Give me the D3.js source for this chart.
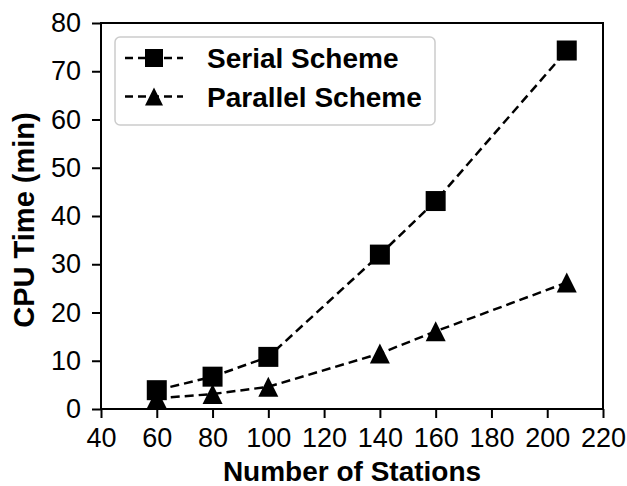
<!DOCTYPE html>
<html>
<head>
<meta charset="utf-8">
<script src="https://cdn.jsdelivr.net/npm/d3@7"></script>
<style>
  body { margin: 0; background: #fff; }
  svg text { font-family: "Liberation Sans", Arial, sans-serif; fill: #000; }
</style>
</head>
<body>
<div id="chart"></div>
<script>
// values
const stations = [60, 80, 100, 140, 160, 207];
const serialTime = [3.9, 6.7, 10.8, 32.0, 43.1, 74.3];
const parallelTime = [2.2, 3.1, 4.6, 11.5, 16.1, 26.2];
const xTicks = [40, 60, 80, 100, 120, 140, 160, 180, 200, 220];
const yTicks = [0, 10, 20, 30, 40, 50, 60, 70, 80];
const seriesNames = ['Serial Scheme', 'Parallel Scheme'];

const width = 627, height = 486;
const margin = {top: 23, right: 24, bottom: 77, left: 101};

let svg = d3.select('#chart').append('svg')
    .attr('width', width)
    .attr('height', height);

let x = d3.scaleLinear().domain([40, 220]).range([margin.left, width - margin.right]);
let y = d3.scaleLinear().domain([0, 80]).range([height - margin.bottom, margin.top]);

// matplotlib style '^' marker: as wide as it is tall
const triangleUp = {
    draw: function(context, size) {
        let r = Math.sqrt(size) / 2;
        context.moveTo(0, -r);
        context.lineTo(r, r);
        context.lineTo(-r, r);
        context.closePath();
    }
};

// axes
let xAxis = svg.append('g')
    .attr('transform', 'translate(0,' + (height - margin.bottom) + ')')
    .call(d3.axisBottom(x).tickValues(xTicks).tickSize(9).tickPadding(10));
let yAxis = svg.append('g')
    .attr('transform', 'translate(' + margin.left + ',0)')
    .call(d3.axisLeft(y).tickValues(yTicks).tickSize(9).tickPadding(11));

[xAxis, yAxis].forEach(function(a) {
    a.selectAll('path').remove();
    a.selectAll('line').attr('stroke', '#000').attr('stroke-width', 2);
    a.selectAll('text').style('font-size', '27px');
});

// frame
svg.append('rect')
    .attr('x', x(40))
    .attr('y', y(80))
    .attr('width', x(220) - x(40))
    .attr('height', y(0) - y(80))
    .attr('fill', 'none')
    .attr('stroke', '#000')
    .attr('stroke-width', 2);

// axis titles
svg.append('text')
    .attr('x', (x(40) + x(220)) / 2)
    .attr('y', 481)
    .attr('text-anchor', 'middle')
    .style('font-size', '28px')
    .style('font-weight', 'bold')
    .text('Number of Stations');

svg.append('text')
    .attr('transform', 'translate(34,' + ((y(0) + y(80)) / 2 + 4) + ') rotate(-90)')
    .attr('text-anchor', 'middle')
    .style('font-size', '29px')
    .style('font-weight', 'bold')
    .text('CPU Time (min)');

// series
const series = [
    {name: seriesNames[0], values: serialTime, symbol: d3.symbolSquare},
    {name: seriesNames[1], values: parallelTime, symbol: triangleUp}
];

let line = d3.line()
    .x(function(d) {return x(d[0])})
    .y(function(d) {return y(d[1])});

series.forEach(function(s) {
    let pts = stations.map(function(st, i) {return [st, s.values[i]]});
    svg.append('path')
        .datum(pts)
        .attr('d', line)
        .attr('fill', 'none')
        .attr('stroke', '#000')
        .attr('stroke-width', 2.5)
        .attr('stroke-dasharray', '9,5');
    svg.selectAll(null)
        .data(pts)
        .enter()
        .append('path')
        .attr('transform', function(d) {return 'translate(' + x(d[0]) + ',' + y(d[1]) + ')'})
        .attr('d', d3.symbol().type(s.symbol).size(400))
        .attr('fill', '#000');
});

// legend
let legend = svg.append('g');
legend.append('rect')
    .attr('x', 115)
    .attr('y', 37)
    .attr('width', 320)
    .attr('height', 88)
    .attr('rx', 5)
    .attr('fill', '#fff')
    .attr('stroke', '#ccc')
    .attr('stroke-width', 1.5);

series.forEach(function(s, i) {
    let cy = 58 + i * 38.5;
    legend.append('line')
        .attr('x1', 125).attr('x2', 183)
        .attr('y1', cy).attr('y2', cy)
        .attr('stroke', '#000')
        .attr('stroke-width', 2.5)
        .attr('stroke-dasharray', '8,5');
    legend.append('path')
        .attr('transform', 'translate(154,' + cy + ')')
        .attr('d', d3.symbol().type(s.symbol).size(324))
        .attr('fill', '#000');
    legend.append('text')
        .attr('x', 207)
        .attr('y', cy + 10)
        .style('font-size', '28px')
        .style('font-weight', 'bold')
        .text(s.name);
});
</script>
</body>
</html>
